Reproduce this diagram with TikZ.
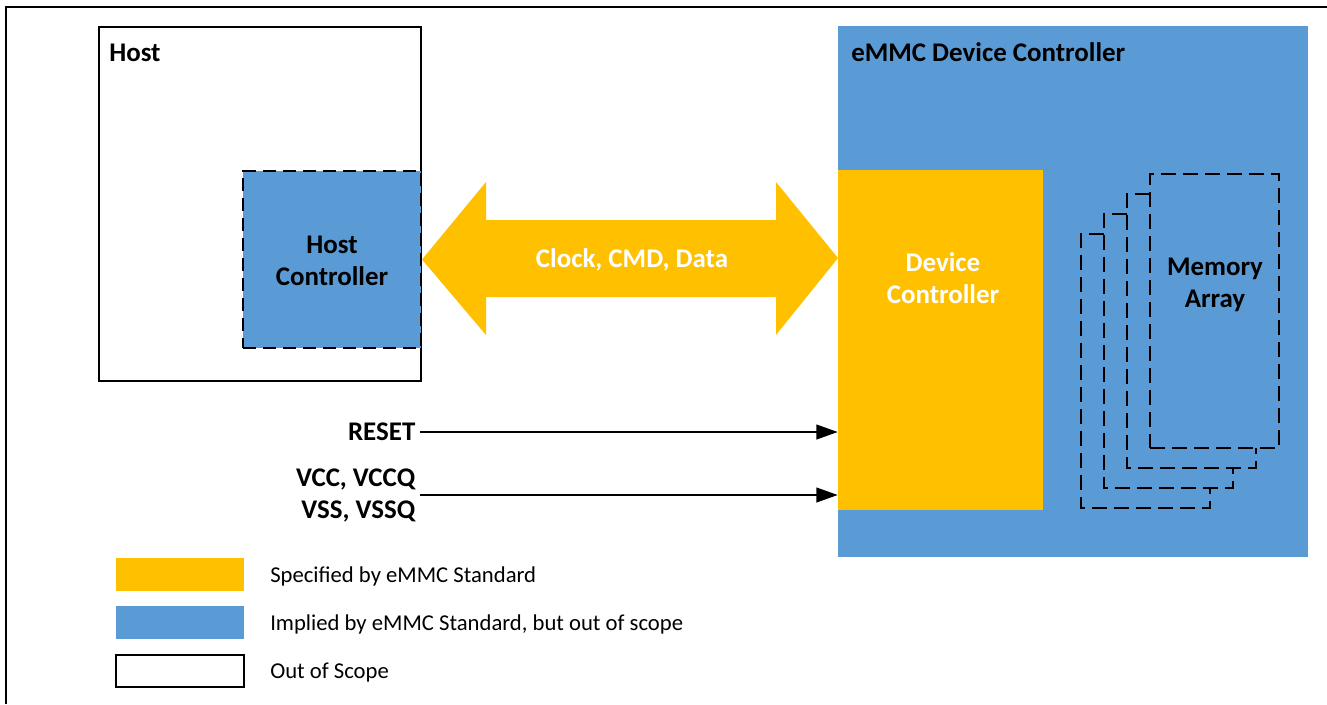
\documentclass[tikz,border=0pt]{standalone}
\usepackage{fontspec}
\setmainfont{Carlito}
\usetikzlibrary{fit,arrows.meta}
\definecolor{specyellow}{HTML}{FFC000}
\definecolor{impliedblue}{HTML}{5B9BD5}
\tikzset{
  solidbox/.style={draw, line width=1.5pt, inner sep=0pt},
  dashbox/.style={draw, line width=1.5pt, dash pattern=on 10pt off 5pt, inner sep=0pt},
  pagebox/.style={line width=1.5pt, dash pattern=on 11pt off 5.5pt},
  boldlabel/.style={font=\bfseries\fontsize{20.2}{24}\selectfont},
  keytext/.style={font=\fontsize{17}{20}\selectfont, inner sep=0pt, anchor=base west},
  signal/.style={line width=1.5pt, -{Triangle[length=16pt, width=11pt]}},
}

\begin{document}
\begin{tikzpicture}[x=0.75pt, y=-0.75pt]
  \useasboundingbox (0,0) rectangle (1327,704);
  \draw [line width=1.5pt] (6,704) -- (6,7) -- (1327,7);

  % host side
  \node (host) [solidbox, fit={(99,27) (421,381)}] {};
  \node (hostlbl) [boldlabel, anchor=base west, inner sep=0pt] at (109,61) {Host};
  \node (hostctrl) [dashbox, fill=impliedblue, fit={(243,171) (421,348)}] {};
  \node (hostctrllbl) [boldlabel, align=center] at (332,261) {Host\\Controller};

  % device side
  \node (emmc) [fill=impliedblue, inner sep=0pt, fit={(838,26) (1308,557)}] {};
  \node (emmclbl) [boldlabel, anchor=base west, inner sep=0pt] at (851,61) {eMMC Device Controller};
  \node (devctrl) [fill=specyellow, inner sep=0pt, fit={(838,170) (1043,510)}] {};
  \node (devctrllbl) [boldlabel, text=white, align=center] at (943,278) {Device\\Controller};

  % memory pages
  \foreach \k in {3,2,1}
    \draw [pagebox] (1173-23*\k,174+20*\k) -- (1150-23*\k,174+20*\k) -- (1150-23*\k,448+20*\k)
      -- (1279-23*\k,448+20*\k) -- (1279-23*\k,428+20*\k);
  \node (memory) [draw, pagebox, inner sep=0pt, fit={(1150,174) (1279,448)}] {};
  \node (memorylbl) [boldlabel, align=center] at (1215,285) {Memory\\Array};

  % bus
  \fill [specyellow] (hostctrl.east) -- (486,182) -- (486,220) -- (776,220) -- (776,182) -- (838,258)
    -- (776,335) -- (776,297) -- (486,297) -- (486,335) -- cycle;
  \node (buslbl) [boldlabel, text=white, anchor=base] at (632,267) {Clock, CMD, Data};

  % signals
  \node (resetlbl) [boldlabel, anchor=east] at (420,432) {RESET};
  \node (powerlbl) [boldlabel, anchor=east, align=right] at (420,495) {VCC, VCCQ\\VSS, VSSQ};
  \draw [signal] (resetlbl.east) -- (resetlbl.east -| devctrl.west);
  \draw [signal] (powerlbl.east) -- (powerlbl.east -| devctrl.west);

  % key
  \node (keyspec) [fill=specyellow, inner sep=0pt, fit={(116,558) (244,591)}] {};
  \node (keyimpl) [fill=impliedblue, inner sep=0pt, fit={(116,606) (244,639)}] {};
  \node (keyout) [solidbox, fit={(116,655) (244,687)}] {};
  \node (keyspectxt) [keytext] at (270,582) {Specified by eMMC Standard};
  \node (keyimpltxt) [keytext] at (270,630) {Implied by eMMC Standard, but out of scope};
  \node (keyouttxt) [keytext] at (270,678) {Out of Scope};
\end{tikzpicture}
\end{document}
